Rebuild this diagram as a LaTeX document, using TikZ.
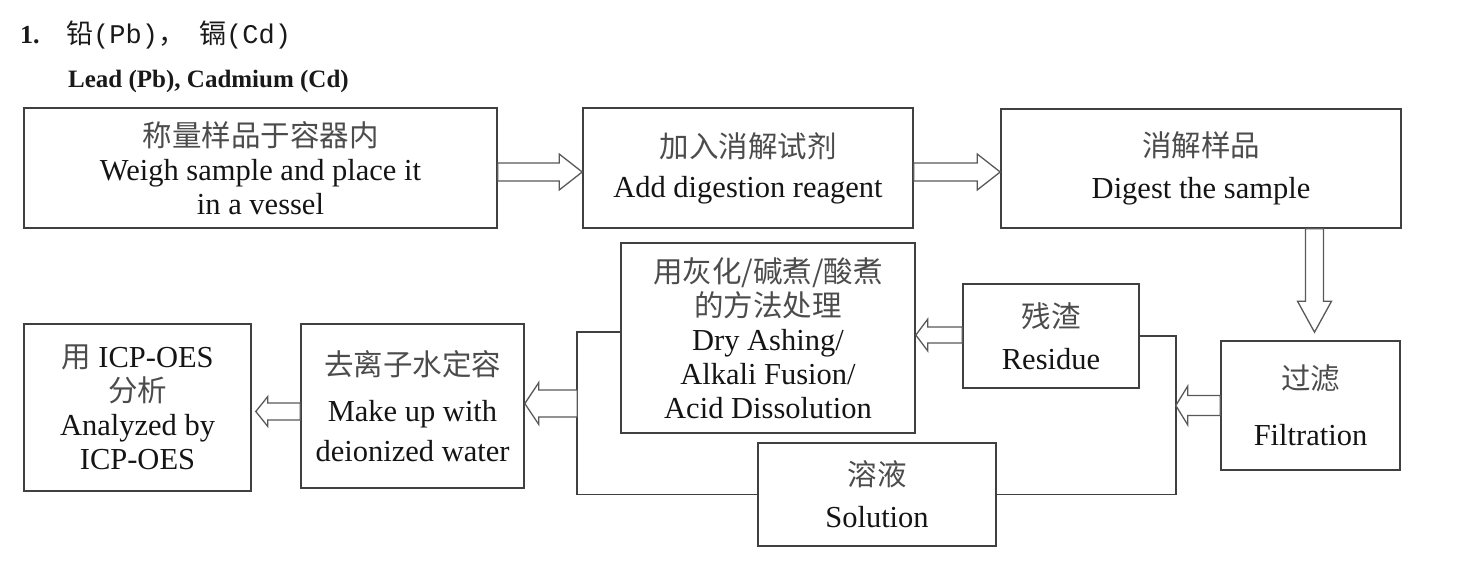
\documentclass[tikz,border=0pt]{standalone}
\usepackage{fontspec}
\setmainfont{Liberation Serif}
\newfontfamily\cjk{Noto Sans CJK SC}
\newfontfamily\monofam{Liberation Mono}
\usetikzlibrary{calc}
\newcommand\zh{\cjk\fontsize{29.5}{34}\selectfont\color{black!70}}
% horizontal block arrow: #1 tail point, #2 tip point, #3 y offset of centre, #4 half shaft, #5 half head, #6 signed head length
\newcommand\harr[6]{%
  \draw[barrow] let \p1=($(#1)+(0,#3)$), \p2=(#2) in
    (\x1,{\y1+#4pt}) -- ({\x2-(#6pt)},{\y1+#4pt}) -- ({\x2-(#6pt)},{\y1+#5pt})
    -- (\x2,\y1) -- ({\x2-(#6pt)},{\y1-#5pt}) -- ({\x2-(#6pt)},{\y1-#4pt})
    -- (\x1,{\y1-#4pt}) -- cycle;}
\begin{document}
\begin{tikzpicture}[x=1pt,y=-1pt,
  box/.style={draw=black!75, line width=1.6pt, rectangle, align=center, inner sep=0pt,
    font=\fontsize{30.5}{34}\selectfont, text=black!92},
  barrow/.style={draw=black!65, line width=1.3pt, fill=white, line join=miter},
  link/.style={draw=black!75, line width=1.6pt},
  ttl/.style={anchor=base west, inner sep=0pt, text=black!90}]
\useasboundingbox (0,0) rectangle (1464,568);

% title
\node[ttl, font=\bfseries\fontsize{26}{30}\selectfont] (t1) at (20,43) {1.};
\node[ttl, font=\fontsize{27}{30}\selectfont] (t2) at (66,43) {{\cjk 铅}{\monofam (Pb)}{\cjk ，}};
\node[ttl, font=\fontsize{27}{30}\selectfont] (t3) at (199,43) {{\cjk 镉}{\monofam (Cd)}};
\node[ttl, font=\bfseries\fontsize{25}{30}\selectfont] (t4) at (68,87) {Lead (Pb), Cadmium (Cd)};

% boxes
\node[box, minimum width=473pt, minimum height=120pt] (A) at (260.5,168)
  {{\zh 称量样品于容器内}\\Weigh sample and place it\\in a vessel};
\node[box, minimum width=330pt, minimum height=120pt] (B) at (748,168)
  {{\zh 加入消解试剂}\\[6pt]Add digestion reagent};
\node[box, minimum width=400pt, minimum height=119pt] (C) at (1201,168.5)
  {{\zh 消解样品}\\[8pt]Digest the sample};
\node[box, minimum width=179pt, minimum height=129pt] (F) at (1310.5,405.5)
  {{\zh 过滤}\\[22pt]Filtration};
\node[box, minimum width=176pt, minimum height=104pt] (R) at (1051,336)
  {{\zh 残渣}\\[8pt]Residue};
\node[box, minimum width=294pt, minimum height=190pt] (T) at (768,338)
  {{\zh 用灰化/碱煮/酸煮}\\{\zh 的方法处理}\\Dry Ashing/\\Alkali Fusion/\\Acid Dissolution};
\node[box, minimum width=238pt, minimum height=103pt] (S) at (877,494.5)
  {{\zh 溶液}\\[8pt]Solution};
\node[box, minimum width=223pt, minimum height=164pt] (M) at (412.5,406)
  {{\zh 去离子水定容}\\[12pt]Make up with\\[6pt]deionized water};
\node[box, minimum width=227pt, minimum height=167pt] (I) at (137.5,407.5)
  {{\zh 用} ICP-OES\\{\zh 分析}\\Analyzed by\\ICP-OES};

% brackets
\coordinate (rbx) at ($(R.east)+(36,0)$);
\coordinate (lbx) at ($(T.west)+(-43,-6)$);
\draw[link] (R.east) -- (rbx) |- (S.east);
\draw[link] ([yshift=6pt]T.west) -- (lbx) |- (S.west);

% block arrows
\harr{A.east}{B.west}{4}{9}{18}{23}
\harr{B.east}{C.west}{4}{9}{18}{23}
\harr{F.west}{rbx |- F.west}{0}{10}{19.5}{-12}
\harr{R.west}{T.east}{-1}{8}{16}{-12}
\harr{lbx |- M.east}{M.east}{-2.5}{13.5}{21}{-14}
\harr{M.west}{[xshift=4pt]I.east}{5.5}{8.5}{15}{-12}
\draw[barrow] let \p1=(C.south), \p2=(F.north) in
  ({\x2+4pt-9pt},\y1) -- ({\x2+4pt-9pt},{\y2+39pt}) -- ({\x2+4pt-17pt},{\y2+39pt})
  -- ({\x2+4pt},{\y2+8pt}) -- ({\x2+4pt+17pt},{\y2+39pt}) -- ({\x2+4pt+9pt},{\y2+39pt})
  -- ({\x2+4pt+9pt},\y1) -- cycle;
\end{tikzpicture}
\end{document}
